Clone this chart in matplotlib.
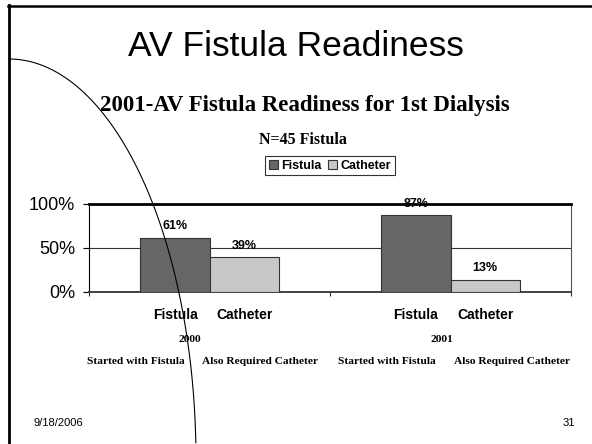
import matplotlib
matplotlib.use("Agg")
import matplotlib.pyplot as plt
import numpy as np
from matplotlib.lines import Line2D
from matplotlib import font_manager

years = ["2000", "2001"]
groups = ["Started with Fistula", "Also Required Catheter"]
series = ["Fistula", "Catheter"]
fistula = [0.61, 0.87]
catheter = [0.39, 0.13]
ytick_vals = [0, 0.5, 1.0]
ytick_labels = ["0%", "50%", "100%"]

W, H = 592, 444
sans = "Liberation Sans"
serif = "Liberation Serif"
names = set(f.name for f in font_manager.fontManager.ttflist)
narrow = "Liberation Sans Narrow" if "Liberation Sans Narrow" in names else sans
title_size = 30 if narrow != sans else 25.5

fig = plt.figure(figsize=(W / 100, H / 100), dpi=100)

def fx(px):
    return px / W

def fy(py):
    return 1 - py / H

# slide border (left and top)
fig.add_artist(Line2D([fx(8.7), fx(8.7)], [fy(5), 0], color="black", lw=2.0,
                      transform=fig.transFigure))
fig.add_artist(Line2D([fx(7.5), 1], [fy(6), fy(6)], color="black", lw=1.8,
                      transform=fig.transFigure))

# slide title
fig.text(fx(296), fy(47), "AV Fistula Readiness", ha="center", va="center",
         fontsize=title_size, family=narrow)
fig.text(fx(305), fy(105), "2001-AV Fistula Readiness for 1st Dialysis", ha="center",
         va="center", fontsize=16.5, family=serif, fontweight="bold")
fig.text(fx(303), fy(140), "N=45 Fistula", ha="center", va="center",
         fontsize=11.5, family=serif, fontweight="bold")

ax = fig.add_axes([fx(89.4), fy(291.7), fx(571) - fx(89.4), fy(204) - fy(291.7)])
x = np.arange(len(years))
w = 0.288
b1 = ax.bar(x - w / 2, fistula, w, color="#666666", edgecolor="#333333", lw=0.8,
            label=series[0], zorder=3)
b2 = ax.bar(x + w / 2, catheter, w, color="#c8c8c8", edgecolor="#333333", lw=0.8,
            label=series[1], zorder=3)

for bars, vals in [(b1, fistula), (b2, catheter)]:
    for r, v in zip(bars, vals):
        ax.annotate("%d%%" % round(v * 100), (r.get_x() + r.get_width() / 2, v),
                    xytext=(0, 8.5), textcoords="offset points", ha="center", va="center",
                    fontsize=9, family=sans, fontweight="bold", zorder=4)

ax.set_xlim(-0.5, 1.5)
ax.set_ylim(0, 1)
ax.axhline(0.5, color="#333333", lw=0.8, zorder=1)

ax.set_yticks(ytick_vals)
ax.set_yticklabels(ytick_labels, fontsize=13, family=sans)
ax.tick_params(axis="y", length=4.3, width=0.8, pad=6)

centers = np.concatenate([x - w / 2, x + w / 2])
cat_labels = [series[0]] * len(years) + [series[1]] * len(years)
ax.set_xticks(centers)
ax.set_xticklabels(cat_labels, fontsize=10, family=sans, fontweight="bold")
ax.set_xticks([-0.5, 0.5, 1.5], minor=True)
ax.tick_params(axis="x", which="major", length=0, pad=12)
ax.tick_params(axis="x", which="minor", length=3, width=0.8, color="#333333")

ax.spines["top"].set_linewidth(2.0)
ax.spines["top"].set_color("black")
ax.spines["right"].set_linewidth(0.8)
ax.spines["right"].set_color("#555555")
ax.spines["left"].set_linewidth(0.8)
ax.spines["bottom"].set_linewidth(1.3)
ax.spines["bottom"].set_color("#333333")

# second-level category labels
for px, yr in zip([190, 442], years):
    fig.text(fx(px), fy(339), yr, ha="center", va="center", fontsize=8.2,
             family=serif, fontweight="bold")
for px, g in zip([136, 260, 387, 512], groups * 2):
    fig.text(fx(px), fy(361), g, ha="center", va="center", fontsize=8.2,
             family=serif, fontweight="bold")

leg = fig.legend(handles=[b1, b2], labels=series, loc="center",
                 bbox_to_anchor=(fx(330), fy(165.5)), ncol=2, frameon=True,
                 fancybox=False, edgecolor="black", handlelength=0.7, handleheight=0.7,
                 handletextpad=0.3, columnspacing=0.5, borderpad=0.3,
                 prop={"family": sans, "weight": "bold", "size": 9})
leg.get_frame().set_linewidth(0.8)

# footer
fig.text(fx(33), fy(423), "9/18/2006", ha="left", va="center", fontsize=8, family=sans)
fig.text(fx(575), fy(423), "31", ha="right", va="center", fontsize=8, family=sans)

# decorative arc across the slide (quarter of an ellipse)
t = np.linspace(-np.pi / 2, 0.0, 400)
cx, cy, a, b = 9, 460, 187, 401
ex = cx + a * np.cos(t)
ey = cy + b * np.sin(t)
keep = ey <= H
fig.add_artist(Line2D(fx(ex[keep]), fy(ey[keep]), color="black", lw=0.8,
                      transform=fig.transFigure, zorder=10))

fig.savefig("out.png", dpi=100)
